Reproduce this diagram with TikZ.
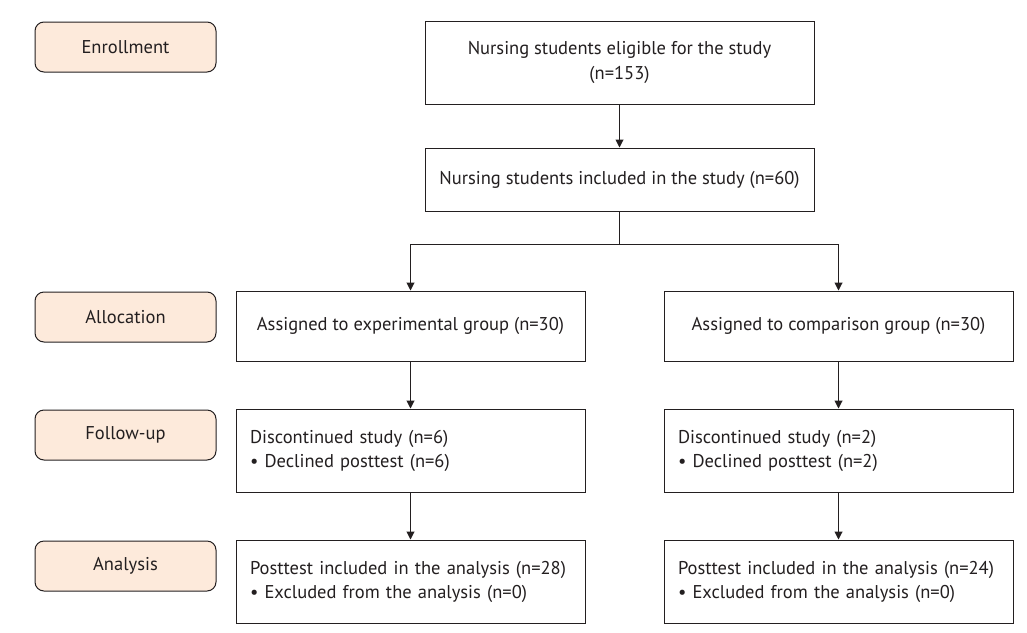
\documentclass[tikz,border=0pt]{standalone}
\usepackage{fontspec}
\setmainfont{PT Sans}
\usetikzlibrary{arrows.meta}
\definecolor{phasefill}{HTML}{FDEADB}
\definecolor{ink}{HTML}{231F20}
\begin{document}
\begin{tikzpicture}[x=1pt,y=-1pt,
  every node/.style={font=\fontsize{18.5}{25}\selectfont, text=ink},
  phase/.style={draw=ink, line width=1pt, rounded corners=9pt, fill=phasefill,
    minimum width=181pt, minimum height=50pt, inner sep=0pt},
  flowbox/.style={draw=ink, line width=1pt, fill=white, inner sep=0pt, align=center},
  listbox/.style={draw=ink, line width=1pt, fill=white, inner sep=0pt, align=left,
    text width=321pt, minimum width=349pt, minimum height=83pt},
  arr/.style={draw=ink, line width=1pt, -{Triangle[length=8pt,width=8pt]}},
  ln/.style={draw=ink, line width=1pt}]
\useasboundingbox (0,0) rectangle (1027,632);
% phases
\node[phase] (enr) at (125.5,47) {Enrollment};
\node[phase] (alloc) at (125.5,317) {Allocation};
\node[phase] (fol) at (125.5,435) {Follow-up};
\node[phase] (ana) at (125.5,566) {Analysis};
% top boxes
\node[flowbox, minimum width=389pt, minimum height=83pt] (elig) at (619.5,62.5)
  {Nursing students eligible for the study\\(n=153)};
\node[flowbox, minimum width=389pt, minimum height=63pt] (incl) at (619.5,179.5)
  {Nursing students included in the study (n=60)};
% allocation
\node[flowbox, minimum width=349pt, minimum height=70pt] (exp) at (410.5,326)
  {Assigned to experimental group (n=30)};
\node[flowbox, minimum width=349pt, minimum height=70pt] (comp) at (838.5,326)
  {Assigned to comparison group (n=30)};
% follow-up
\node[listbox] (dl) at (410.5,450.5)
  {Discontinued study (n=6)\\[-1pt]\textbullet\ Declined posttest (n=6)\vphantom{g}\\[12pt]};
\node[listbox] (dr) at (838.5,450.5)
  {Discontinued study (n=2)\\[-1pt]\textbullet\ Declined posttest (n=2)\vphantom{g}\\[12pt]};
% analysis
\node[listbox] (al) at (410.5,581.5)
  {Posttest included in the analysis (n=28)\\[-1pt]\textbullet\ Excluded from the analysis (n=0)\\[12pt]};
\node[listbox] (ar) at (838.5,581.5)
  {Posttest included in the analysis (n=24)\\[-1pt]\textbullet\ Excluded from the analysis (n=0)\\[12pt]};
% connectors
\draw[arr] (elig.south) -- (incl.north);
\coordinate (split) at (619.5,244);
\draw[ln] (incl.south) -- (split);
\draw[arr] (split) -| (exp.north);
\draw[arr] (split) -| (comp.north);
\draw[arr] (exp.south) -- (dl.north);
\draw[arr] (comp.south) -- (dr.north);
\draw[arr] (dl.south) -- (al.north);
\draw[arr] (dr.south) -- (ar.north);
\end{tikzpicture}
\end{document}
